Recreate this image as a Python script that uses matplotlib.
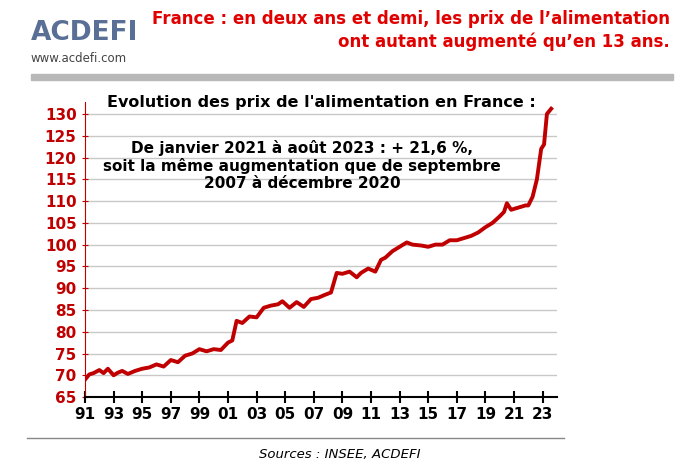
import matplotlib.pyplot as plt
from matplotlib.patches import Rectangle

# food price index, France (roughly semi-annual)
years = [1991.0, 1991.3, 1991.6, 1992.0, 1992.3, 1992.6, 1993.0, 1993.3, 1993.6, 1994.0,
         1994.5, 1995.0, 1995.5, 1996.0, 1996.5, 1997.0, 1997.5, 1998.0, 1998.5, 1999.0,
         1999.5, 2000.0, 2000.5, 2001.0, 2001.3, 2001.6, 2002.0, 2002.5, 2003.0, 2003.5,
         2004.0, 2004.5, 2004.8, 2005.3, 2005.8, 2006.3, 2006.8, 2007.3, 2007.8, 2008.2,
         2008.6, 2009.0, 2009.5, 2010.0, 2010.3, 2010.8, 2011.3, 2011.7, 2012.0, 2012.5,
         2013.0, 2013.5, 2013.9, 2014.5, 2015.0, 2015.5, 2016.0, 2016.5, 2017.0, 2017.5,
         2018.0, 2018.5, 2019.0, 2019.5, 2020.0, 2020.3, 2020.5, 2020.8, 2021.3, 2021.8,
         2022.0, 2022.3, 2022.6, 2022.9, 2023.1, 2023.3, 2023.6]
index = [69.0, 70.2, 70.5, 71.2, 70.5, 71.5, 70.0, 70.6, 71.0, 70.3,
         71.0, 71.5, 71.8, 72.5, 72.0, 73.5, 73.0, 74.5, 75.0, 76.0,
         75.5, 76.0, 75.8, 77.5, 78.0, 82.5, 82.0, 83.5, 83.3, 85.5,
         86.0, 86.3, 87.0, 85.5, 86.8, 85.7, 87.5, 87.8, 88.5, 89.0,
         93.5, 93.3, 93.8, 92.5, 93.5, 94.5, 93.8, 96.5, 97.0, 98.5,
         99.5, 100.5, 100.0, 99.8, 99.5, 100.0, 100.0, 101.0, 101.0, 101.5,
         102.0, 102.8, 104.0, 105.0, 106.5, 107.5, 109.5, 108.0, 108.5, 109.0,
         109.0, 111.0, 115.0, 122.0, 123.0, 130.0, 131.2]

y_ticks = list(range(65, 131, 5))
x_ticks = list(range(1991, 2024, 2))
x_labels = [f"{y % 100:02d}" for y in x_ticks]

fig = plt.figure(figsize=(6.8, 4.71), dpi=100)
ax = fig.add_axes([0.125, 0.157, 0.694, 0.626])

ax.plot(years, index, color="#c00000", lw=2.8, solid_joinstyle="round")
ax.set_xlim(1991, 2024)
ax.set_ylim(65, 132.7)
ax.set_yticks(y_ticks)
ax.set_xticks(x_ticks)
ax.set_xticklabels(x_labels)
ax.grid(axis="y", color="#c8c8c8", lw=1)
ax.set_axisbelow(True)
for s in ["top", "right"]:
    ax.spines[s].set_visible(False)
ax.spines["left"].set_color("#c00000")
ax.spines["bottom"].set_color("black")
ax.spines["bottom"].set_linewidth(1.5)
ax.tick_params(axis="y", colors="#c00000", labelsize=11, length=5, direction="inout")
ax.tick_params(axis="x", labelsize=11, length=8, width=1.5, direction="inout")
for lab in ax.get_yticklabels() + ax.get_xticklabels():
    lab.set_fontweight("bold")

ax.text(0.5, 1.0, "Evolution des prix de l'alimentation en France :", transform=ax.transAxes,
        ha="center", va="center", fontsize=11.5, fontweight="bold")
ax.text(0.46, 0.785, "De janvier 2021 à août 2023 : + 21,6 %,\nsoit la même augmentation que de septembre\n2007 à décembre 2020",
        transform=ax.transAxes, ha="center", va="center", fontsize=11, fontweight="bold", linespacing=1.15)

# header
fig.text(0.985, 0.935, "France : en deux ans et demi, les prix de l’alimentation\nont autant augmenté qu’en 13 ans.",
         ha="right", va="center", color="#e00000", fontsize=12, fontweight="bold",
         linespacing=1.35)
fig.text(0.045, 0.93, "ACDEFI", color="#5a6f96", fontsize=19, fontweight="bold", va="center")
fig.text(0.045, 0.875, "www.acdefi.com", color="#444444", fontsize=8.5, va="center")
fig.patches.append(Rectangle((0.045, 0.83), 0.945, 0.012, transform=fig.transFigure, color="#b8b8b8"))
fig.lines.append(plt.Line2D([0.04, 0.83], [0.07, 0.07], transform=fig.transFigure, color="#888888", lw=1))
fig.text(0.5, 0.035, "Sources : INSEE, ACDEFI", ha="center", va="center", fontsize=9.5, style="italic")

fig.savefig("out.png", dpi=100)
